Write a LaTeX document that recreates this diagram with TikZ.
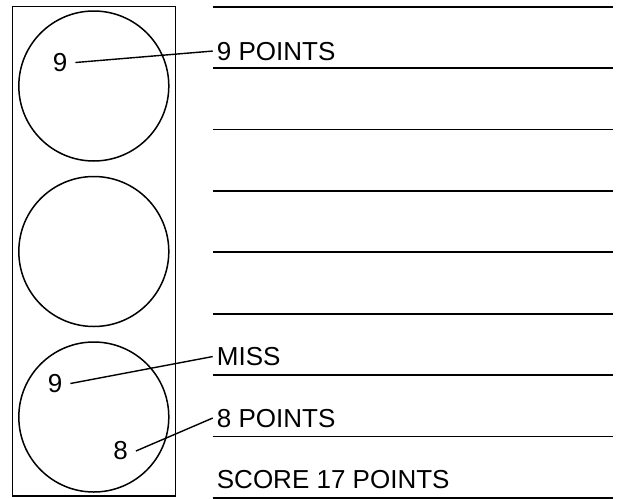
\documentclass[tikz,border=0pt]{standalone}
\usepackage{fontspec}
\setmainfont{Liberation Sans}
\usepackage{xcolor}
\usetikzlibrary{positioning}
\definecolor{inkblack}{RGB}{0,0,0}

\begin{document}
\begin{tikzpicture}[x=1pt, y=-1pt, every node/.style={font=\fontsize{26}{30}\selectfont, text=inkblack},
    hit/.style={inner xsep=8pt, inner ysep=0pt},
    entry/.style={inner xsep=4pt, inner ysep=0pt, anchor=base west},
    rule/.style={line width=1.9pt, inkblack},
    leader/.style={line width=1.4pt, inkblack}]
    \useasboundingbox (0,0) rectangle (620,498);

    % Target card
    \draw[line width=1.5pt, inkblack] (12.7,6.7) rectangle (175.7,496);
    \foreach \cy/\name in {86/top, 251.5/mid, 417/low} {
        \draw[line width=1.5pt, inkblack] (93.8,\cy) circle [radius=75pt];
    }

    % Score sheet rules
    \foreach \ly in {0,...,8} {
        \draw[rule] (212.7,{6.7+61.4*\ly}) -- (612.7,{6.7+61.4*\ly});
    }

    % Hits
    \node[hit] (h1) at (60,62.5) {9};
    \node[hit] (h2) at (55,383.5) {9};
    \node[hit] (h3) at (120.5,451) {8};

    % Entries
    \node[entry] (e1) at (212.7,60) {9 POINTS};
    \node[entry] (e2) at (212.7,365.5) {MISS};
    \node[entry] (e3) at (212.7,427) {8 POINTS};
    \node[entry] (e4) at (212.7,488.5) {SCORE 17 POINTS};

    % Leaders
    \draw[leader] (h1.east) -- (e1.west);
    \draw[leader] (h2.east) -- (e2.west);
    \draw[leader] (h3.east) -- (e3.west);
\end{tikzpicture}
\end{document}
